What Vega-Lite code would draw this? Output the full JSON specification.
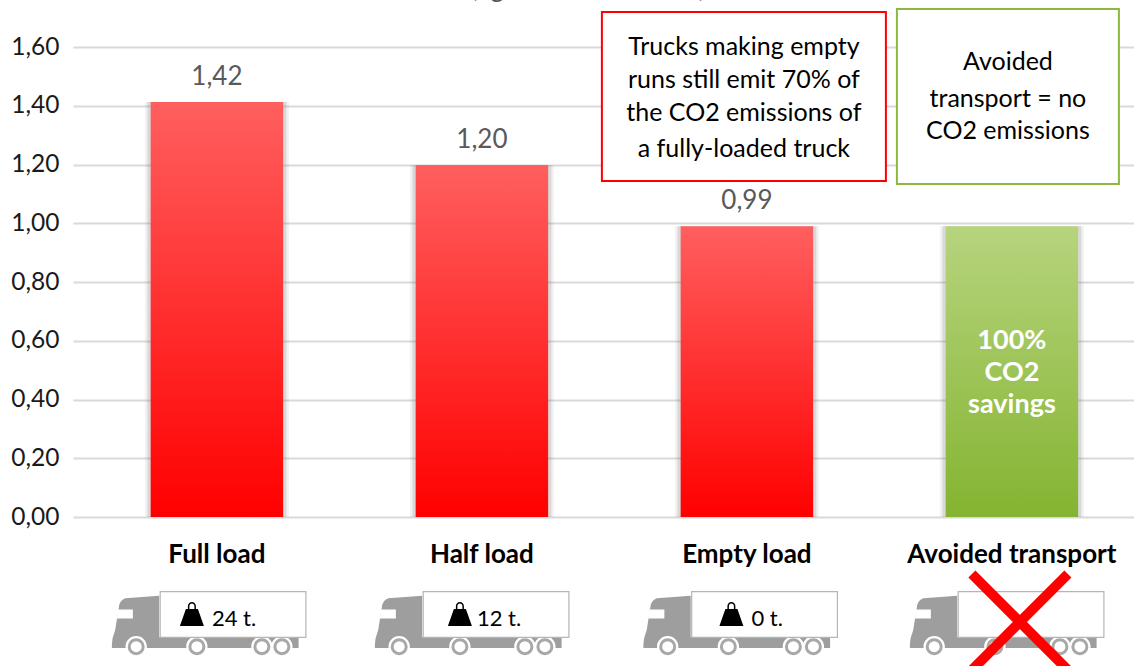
{
"$schema":"https://vega.github.io/schema/vega-lite/v6.json",
"width":1061,"height":470,
"autosize":{"type":"none"},
"padding":{"left":73,"top":47,"right":0,"bottom":149},
"background":"white",
"config":{"view":{"stroke":null},"font":"Lato"},
"datasets":{
"bars":[
{"load":"Full load","co2":1.413,"label":"1,42","kind":"red"},
{"load":"Half load","co2":1.198,"label":"1,20","kind":"red"},
{"load":"Empty load","co2":0.99,"label":"0,99","kind":"red"},
{"load":"Avoided transport","co2":0.99,"label":"","kind":"green"}
],
"trucks":[
{"load":"Full load","level":-0.3336},
{"load":"Half load","level":-0.3336},
{"load":"Empty load","level":-0.3336},
{"load":"Avoided transport","level":-0.3336}
],
"payload":[
{"load":"Full load","level":-0.3336,"text":"24 t."},
{"load":"Half load","level":-0.3336,"text":"12 t."},
{"load":"Empty load","level":-0.3336,"text":"0 t."}
]
},
"encoding":{"x":{"field":"load","type":"nominal","sort":null,
"scale":{"domain":["Full load","Half load","Empty load","Avoided transport"],"range":[0,1082.8],"paddingInner":0.5,"paddingOuter":0.293},
"axis":{"title":null,"labelAngle":0,"domain":false,"ticks":false,"labelPadding":24,"labelFont":"Lato","labelFontSize":26,"labelFontWeight":"bold","labelColor":"#000000","labelAlign":"center","labelBaseline":"top","grid":false,"labelOverlap":false,"labelBound":false,"labelLimit":400}}},
"layer":[
{"data":{"name":"bars"},
 "mark":{"type":"bar","width":144,"fill":"#7f7f7f","opacity":0.1},
 "encoding":{"y":{"field":"co2","type":"quantitative","scale":{"domain":[0,1.6],"nice":false,"clamp":false},
 "axis":{"title":null,"values":[0,0.2,0.4,0.6,0.8,1,1.2,1.4,1.6],"labelExpr":"replace(format(datum.value,'.2f'),'.',',')","domain":false,"ticks":false,"labelPadding":14,"labelFont":"Lato","labelFontSize":24.5,"labelColor":"#1a1a1a","grid":true,"gridColor":"#d9d9d9","gridWidth":2}}}},
{"data":{"name":"bars"},
 "mark":{"type":"bar","width":139,"fill":"#7f7f7f","opacity":0.22},
 "encoding":{"y":{"field":"co2","type":"quantitative"}}},
{"data":{"name":"bars"},"transform":[{"filter":"datum.kind=='red'"}],
 "mark":{"type":"bar","fill":{"gradient":"linear","x1":0,"y1":0,"x2":0,"y2":1,"stops":[{"offset":0,"color":"#ff5f5f"},{"offset":1,"color":"#ff0000"}]}},
 "encoding":{"y":{"field":"co2","type":"quantitative"}}},
{"data":{"name":"bars"},"transform":[{"filter":"datum.kind=='green'"}],
 "mark":{"type":"bar","fill":{"gradient":"linear","x1":0,"y1":0,"x2":0,"y2":1,"stops":[{"offset":0,"color":"#b7d47e"},{"offset":1,"color":"#84b431"}]}},
 "encoding":{"y":{"field":"co2","type":"quantitative"}}},
{"data":{"name":"bars"},"transform":[{"filter":"datum.label!=''"}],
 "mark":{"type":"text","font":"Lato","fontSize":26,"color":"#595959","dy":-25,"baseline":"middle"},
 "encoding":{"y":{"field":"co2","type":"quantitative"},"text":{"field":"label"}}},
{"data":{"values":[{"load":"Avoided transport","line":"100%","at":0.6},{"load":"Avoided transport","line":"CO2","at":0.49},{"load":"Avoided transport","line":"savings","at":0.382}]},
 "mark":{"type":"text","font":"Lato","fontSize":27,"fontWeight":"bold","color":"#ffffff","baseline":"middle"},
 "encoding":{"y":{"field":"at","type":"quantitative"},"text":{"field":"line"}}},
{"data":{"values":[{"load":"Empty load","top":1.719,"bottom":1.144}]},
 "mark":{"type":"bar","width":284,"xOffset":-3,"fill":"#ffffff","stroke":"#ff0000","strokeWidth":2},
 "encoding":{"y":{"field":"top","type":"quantitative"},"y2":{"field":"bottom"}}},
{"data":{"values":[{"load":"Avoided transport","top":1.729,"bottom":1.134}]},
 "mark":{"type":"bar","width":222,"xOffset":-4,"fill":"#ffffff","stroke":"#8cb93c","strokeWidth":2},
 "encoding":{"y":{"field":"top","type":"quantitative"},"y2":{"field":"bottom"}}},
{"data":{"values":[
 {"load":"Empty load","line":"Trucks making empty","at":1.6},
 {"load":"Empty load","line":"runs still emit 70% of","at":1.488},
 {"load":"Empty load","line":"the CO2 emissions of","at":1.375},
 {"load":"Empty load","line":"a fully-loaded truck","at":1.253}
 ]},
 "mark":{"type":"text","font":"Lato","fontSize":25,"color":"#000000","xOffset":-3,"baseline":"middle"},
 "encoding":{"y":{"field":"at","type":"quantitative"},"text":{"field":"line"}}},
{"data":{"values":[
 {"load":"Avoided transport","line":"Avoided","at":1.549},
 {"load":"Avoided transport","line":"transport = no","at":1.423},
 {"load":"Avoided transport","line":"CO2 emissions","at":1.314}
 ]},
 "mark":{"type":"text","font":"Lato","fontSize":25,"color":"#000000","xOffset":-4,"baseline":"middle"},
 "encoding":{"y":{"field":"at","type":"quantitative"},"text":{"field":"line"}}},
{"data":{"values":[{"load":"Empty load","line":"(kg CO2 emitted km)","at":1.797}]},
 "mark":{"type":"text","font":"Lato","fontSize":26,"color":"#595959","xOffset":-159,"baseline":"middle"},
 "encoding":{"y":{"field":"at","type":"quantitative"},"text":{"field":"line"}}},
{"data":{"name":"trucks"},
 "mark":{"type":"point","filled":true,"size":4,"opacity":1,"fill":"#9e9e9e","stroke":null,
 "xOffset":{"expr":"datum.load=='Full load'?-3:datum.load=='Half load'?-5:datum.load=='Empty load'?-1.5:0"},
 "shape":"M-54.7,-19.3L-88.7,-16.7C-92,-15 -94,-13 -94.7,-10L-98.7,15L-101.3,23.3L-102,29L-102,33L84.7,33L84.7,22.3L-54.7,22.3Z"},
 "encoding":{"y":{"field":"level","type":"quantitative"}}},
{"data":{"name":"trucks"},
 "mark":{"type":"point","filled":true,"size":4,"opacity":1,"fill":"#ffffff","stroke":null,
 "xOffset":{"expr":"datum.load=='Full load'?-3:datum.load=='Half load'?-5:datum.load=='Empty load'?-1.5:0"},
 "shape":"M-96,-5.5L-81,-5.5L-81,3.5L-97,3.5Z"},
 "encoding":{"y":{"field":"level","type":"quantitative"}}},
{"data":{"name":"trucks"},
 "mark":{"type":"point","filled":true,"size":4,"opacity":1,"fill":"#ffffff","stroke":null,
 "xOffset":{"expr":"datum.load=='Full load'?-3:datum.load=='Half load'?-5:datum.load=='Empty load'?-1.5:0"},
 "shape":"M-67,31.7A10.7,10.7 0 1 0 -88.4,31.7A10.7,10.7 0 1 0 -67,31.7ZM-6.3,31.7A10.7,10.7 0 1 0 -27.7,31.7A10.7,10.7 0 1 0 -6.3,31.7ZM58.7,31.7A10.7,10.7 0 1 0 37.3,31.7A10.7,10.7 0 1 0 58.7,31.7ZM78.7,31.7A10.7,10.7 0 1 0 57.3,31.7A10.7,10.7 0 1 0 78.7,31.7Z"},
 "encoding":{"y":{"field":"level","type":"quantitative"}}},
{"data":{"name":"trucks"},
 "mark":{"type":"point","filled":true,"size":4,"opacity":1,"fill":"#ffffff","stroke":"#b5b5b5","strokeWidth":1.2,
 "xOffset":{"expr":"datum.load=='Full load'?-3:datum.load=='Half load'?-5:datum.load=='Empty load'?-1.5:0"},
 "shape":"M-53.7,-23.3L92,-23.3L92,22.3L-53.7,22.3Z"},
 "encoding":{"y":{"field":"level","type":"quantitative"}}},
{"data":{"name":"trucks"},
 "mark":{"type":"point","filled":true,"size":4,"opacity":1,"fill":"#ffffff","stroke":"#a8a8a8","strokeWidth":3,
 "xOffset":{"expr":"datum.load=='Full load'?-3:datum.load=='Half load'?-5:datum.load=='Empty load'?-1.5:0"},
 "shape":"M-70.7,31.7A7,7 0 1 0 -84.7,31.7A7,7 0 1 0 -70.7,31.7ZM-10,31.7A7,7 0 1 0 -24,31.7A7,7 0 1 0 -10,31.7ZM55,31.7A7,7 0 1 0 41,31.7A7,7 0 1 0 55,31.7ZM75,31.7A7,7 0 1 0 61,31.7A7,7 0 1 0 75,31.7Z"},
 "encoding":{"y":{"field":"level","type":"quantitative"}}},
{"data":{"name":"payload"},
 "mark":{"type":"point","filled":true,"size":4,"opacity":1,"fill":"#000000","stroke":null,
 "xOffset":{"expr":"datum.load=='Full load'?-25:datum.load=='Half load'?-22:-15.5"},
 "shape":"M-6,-6L6,-6L12,11L-12,11ZM-4,-6L-4,-9A4,4 0 0 1 4,-9L4,-6L2.5,-6L2.5,-9A2.5,2.5 0 0 0 -2.5,-9L-2.5,-6Z"},
 "encoding":{"y":{"field":"level","type":"quantitative"}}},
{"data":{"name":"payload"},
 "mark":{"type":"text","font":"Lato","fontSize":22,"color":"#000000","align":"left","baseline":"middle","dy":4,
 "xOffset":{"expr":"datum.load=='Full load'?-5:datum.load=='Half load'?-5:4.5"}},
 "encoding":{"y":{"field":"level","type":"quantitative"},"text":{"field":"text"}}},
{"data":{"values":[{"load":"Avoided transport","level":-0.3575}]},
 "mark":{"type":"point","filled":false,"size":4,"opacity":1,"stroke":"#ff0000","strokeWidth":10,"xOffset":8,
 "shape":"M-48,-48L48,48M-48,48L48,-48"},
 "encoding":{"y":{"field":"level","type":"quantitative"}}}
]
}
